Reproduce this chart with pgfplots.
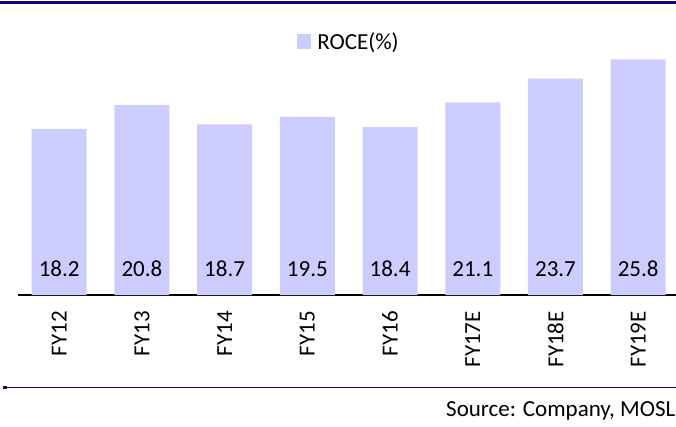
\documentclass[border=0pt]{standalone}
\usepackage{pgfplots}
\pgfplotsset{compat=1.18}
\usepackage{fontspec}
\setmainfont{Carlito}
\definecolor{barc}{HTML}{CCCCFF}
\definecolor{navy}{HTML}{16007E}
\begin{document}
\begin{tikzpicture}[x=1pt,y=1pt]
\path[use as bounding box] (0,0) rectangle (676,426);
\draw[navy, line width=3pt] (0,423.2) -- (676,423.2);
\draw[navy, line width=1.5pt] (3,38.3) -- (676,38.3);
\fill[navy] (3,37.3) rectangle (7,39.6);
\begin{axis}[
  at={(17.85pt,131pt)}, anchor=south west,
  scale only axis, width=658.15pt, height=273.9pt,
  xmin=-0.5, xmax=7.457, ymin=0, ymax=30,
  axis y line=none,
  axis x line=bottom,
  x axis line style={-, black, line width=2pt},
  ytick=\empty,
  xtick=data,
  xticklabels={FY12,FY13,FY14,FY15,FY16,FY17E,FY18E,FY19E},
  major tick length=0pt,
  x tick label style={rotate=90, anchor=east, inner sep=0pt, xshift=-16pt, font=\fontsize{23}{27}\selectfont},
  clip=false,
  legend style={draw=none, fill=none, at={(0.5016,0.924)}, anchor=center,
    font=\fontsize{23}{27}\selectfont, inner sep=0pt,
    nodes={inner sep=0pt}, column sep=6pt},
  legend image code/.code={\fill[barc] (0pt,-7.5pt) rectangle (14pt,7.5pt);},
]
\addplot[ybar, bar width=55pt, bar shift=0pt, fill=barc, draw=none,
  visualization depends on=y \as \rawy,
  nodes near coords,
  nodes near coords style={shift={(axis direction cs:0,-\rawy)}, anchor=base, yshift=18.3pt, inner sep=0pt, font=\fontsize{23}{27}\selectfont, text=black},
  point meta=explicit symbolic]
  table[meta=lab] {
x y lab
0 18.2 18.2
1 20.8 20.8
2 18.7 18.7
3 19.5 19.5
4 18.4 18.4
5 21.1 21.1
6 23.7 23.7
7 25.8 25.8
};
\addlegendentry{ROCE(\%)}
\end{axis}
\node[anchor=base east, inner sep=0pt, font=\fontsize{23}{27}\selectfont] at (675.5,10) {Source: Company, MOSL};
\end{tikzpicture}
\end{document}
